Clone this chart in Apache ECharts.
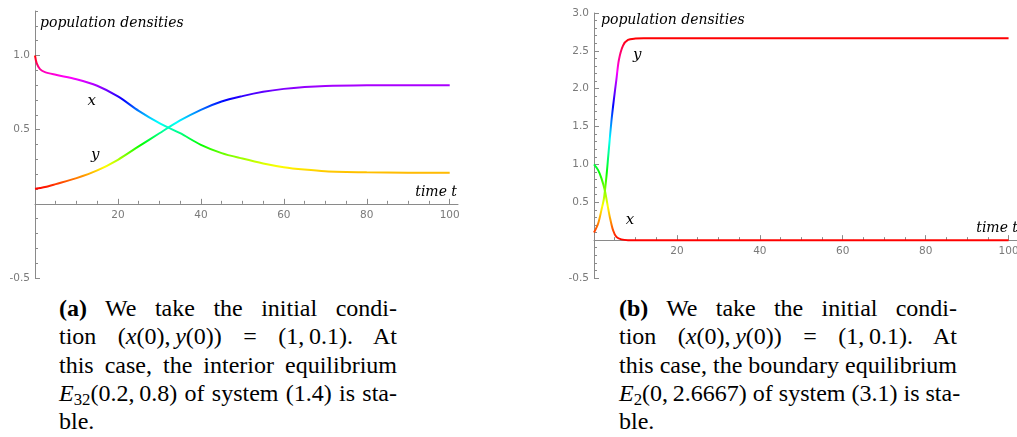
<!DOCTYPE html>
<html>
<head>
<meta charset="utf-8">
<script src="https://cdn.jsdelivr.net/npm/echarts@6/dist/echarts.min.js"></script>
<style>
  html, body { margin: 0; padding: 0; background: #fff; }
  body { width: 1017px; height: 437px; position: relative; overflow: hidden; }
  #chart { position: absolute; left: 0; top: 0; width: 1017px; height: 290px; }
  .caption {
    position: absolute; top: 294px; width: 338px;
    font-family: "Liberation Serif", "Times New Roman", serif;
    font-size: 24px; line-height: 28.33px; color: #000;
  }
  .caption div { text-align: justify; text-align-last: justify; white-space: nowrap; }
  .caption div.last { text-align-last: left; }
  .caption sub { font-size: 70%; line-height: 0; vertical-align: -0.25em; }
</style>
</head>
<body>
<div id="chart"></div>
<div class="caption" style="left:59px">
  <div><b>(a)</b> We take the initial condi-</div>
  <div>tion (<i>x</i>(0),&thinsp;<i>y</i>(0)) = (1,&thinsp;0.1). At</div>
  <div>this case, the interior equilibrium</div>
  <div><i>E</i><sub>32</sub>(0.2,&thinsp;0.8) of system (1.4) is sta-</div>
  <div class="last">ble.</div>
</div>
<div class="caption" style="left:619px">
  <div><b>(b)</b> We take the initial condi-</div>
  <div>tion (<i>x</i>(0),&thinsp;<i>y</i>(0)) = (1,&thinsp;0.1). At</div>
  <div>this case, the boundary equilibrium</div>
  <div><i>E</i><sub>2</sub>(0,&thinsp;2.6667) of system (3.1) is sta-</div>
  <div class="last">ble.</div>
</div>
<script>
  // panel (a): interior equilibrium
  const tA = [0, 0.4, 1.2, 2.4, 5, 10, 15, 20, 25, 30, 35, 40, 45, 50, 55, 60, 65, 70, 80, 90, 100];
  const xA = [1.0, 0.948, 0.908, 0.888, 0.870, 0.840, 0.796, 0.724, 0.627, 0.544, 0.476, 0.398, 0.342, 0.305, 0.272, 0.247, 0.231, 0.220, 0.213, 0.210, 0.209];
  const yA = [0.101, 0.103, 0.107, 0.113, 0.133, 0.173, 0.225, 0.297, 0.387, 0.476, 0.562, 0.634, 0.690, 0.726, 0.755, 0.775, 0.788, 0.795, 0.799, 0.800, 0.800];

  // panel (b): boundary equilibrium
  const tBx = [0, 1, 1.8, 2.6, 3.2, 3.8, 4.6, 5.4, 6.6, 8.2, 12, 20, 40, 60, 80, 100];
  const xB = [1.0, 0.925, 0.815, 0.66, 0.485, 0.31, 0.13, 0.044, 0.01, 0, 0, 0, 0, 0, 0, 0];
  const tBy = [0, 1, 1.8, 2.4, 3, 3.5, 4.2, 4.8, 5.4, 6, 7, 8.2, 10, 12, 20, 40, 60, 80, 100];
  const yB = [0.1, 0.22, 0.40, 0.55, 0.84, 1.15, 1.57, 1.86, 2.12, 2.38, 2.57, 2.645, 2.663, 2.667, 2.667, 2.667, 2.667, 2.667, 2.667];

  const xTickLabels = [20, 40, 60, 80, 100];
  const yTickLabelsA = [-0.5, 0.5, 1.0];
  const yTickLabelsB = [-0.5, 0.5, 1.0, 1.5, 2.0, 2.5, 3.0];
  const curveLabelsA = [["x", 13.7, 0.695], ["y", 14.5, 0.33]];
  const curveLabelsB = [["y", 10.4, 2.44], ["x", 8.7, 0.26]];
  const hues = ["#ff0000", "#ffff00", "#00ff00", "#00ffff", "#0000ff", "#ff00ff", "#ff0000"];

  const steps = (from, to, step) => {
    const out = [];
    for (let v = from; v <= to + step / 2; v += step) out.push(Math.round(v * 1000) / 1000);
    return out;
  };

  const axisGrey = "#8a8a8a";
  const labelFont = { color: "#7a7a7a", fontFamily: "DejaVu Sans", fontSize: 10.5 };
  const nameFont = { color: "#000", fontFamily: "DejaVu Serif", fontStyle: "italic", fontSize: 14 };

  const pairs = (ts, vs) => ts.map((t, i) => [t, vs[i]]);

  function panel(g, rect, xMax, yMin, yMax, yLabels, nameCfg) {
    // the time axis sits on y = 0, so lift it from the grid bottom
    const zeroOffset = -(0 - yMin) / (yMax - yMin) * rect.height;
    const grids = [
      Object.assign({ outerBoundsMode: "none", containLabel: false }, rect),
      Object.assign({ outerBoundsMode: "none", containLabel: false }, rect),
    ];
    const xAxes = [
      {
        gridIndex: g, type: "value", min: 0, max: xMax, position: "bottom", offset: zeroOffset,
        axisLine: { show: true, onZero: false, lineStyle: { color: axisGrey, width: 1 } },
        axisTick: { show: true, inside: true, length: 5, customValues: xTickLabels, lineStyle: { color: axisGrey } },
        axisLabel: Object.assign({ customValues: xTickLabels, margin: 6 }, labelFont),
        splitLine: { show: false },
        name: "time t", nameLocation: "end", nameGap: nameCfg.xGap, nameMoveOverlap: false,
        nameTextStyle: Object.assign({ align: "right", verticalAlign: "bottom", padding: [0, 0, nameCfg.xPad, 0] }, nameFont),
      },
      {
        gridIndex: g + 1, type: "value", min: 0, max: xMax, position: "bottom", offset: zeroOffset,
        axisLine: { show: false, onZero: false },
        axisTick: { show: true, inside: true, length: 3, customValues: steps(0, 100, 5), lineStyle: { color: axisGrey } },
        axisLabel: { show: false }, splitLine: { show: false },
      },
    ];
    const yAxes = [
      {
        gridIndex: g, type: "value", min: yMin, max: yMax, position: "left",
        axisLine: { show: true, onZero: false, lineStyle: { color: axisGrey, width: 1 } },
        axisTick: { show: true, inside: true, length: 5, customValues: yLabels, lineStyle: { color: axisGrey } },
        axisLabel: Object.assign({ customValues: yLabels, margin: 5, formatter: (v) => v.toFixed(1) }, labelFont),
        splitLine: { show: false },
        name: "population densities", nameLocation: "end", nameGap: nameCfg.yGap, nameMoveOverlap: false,
        nameTextStyle: Object.assign({ align: "left", verticalAlign: "top", padding: [0, 0, 0, nameCfg.yPad] }, nameFont),
      },
      {
        gridIndex: g + 1, type: "value", min: yMin, max: yMax, position: "left",
        axisLine: { show: false, onZero: false },
        axisTick: { show: true, inside: true, length: 3, customValues: steps(yMin, yMax, 0.1), lineStyle: { color: axisGrey } },
        axisLabel: { show: false }, splitLine: { show: false },
      },
    ];
    return { grids, xAxes, yAxes };
  }

  function curve(g, data, labels) {
    return {
      type: "line", xAxisIndex: g, yAxisIndex: g, data,
      symbol: "none", smooth: 0.3,
      lineStyle: { width: 2 },
      animation: false, silent: true,
      markPoint: labels.length ? {
        symbol: "circle", symbolSize: 0, silent: true,
        label: Object.assign({ show: true, position: "inside", formatter: (p) => p.name }, nameFont, { fontSize: 15 }),
        data: labels.map(([name, t, v]) => ({ name, coord: [t, v] })),
      } : undefined,
    };
  }

  const pa = panel(0, { left: 35, top: 11, width: 423, height: 267 }, 102, -0.5, 1.3, yTickLabelsA,
    { xGap: -1, xPad: 4, yGap: -5, yPad: 5 });
  const pb = panel(2, { left: 594, top: 13, width: 427, height: 265 }, 103, -0.5, 3.0, yTickLabelsB,
    { xGap: -3, xPad: 5, yGap: 0, yPad: 7 });

  const chart = echarts.init(document.getElementById("chart"), null, { renderer: "canvas" });
  chart.setOption({
    animation: false,
    backgroundColor: "#fff",
    grid: [...pa.grids, ...pb.grids],
    xAxis: [...pa.xAxes, ...pb.xAxes],
    yAxis: [...pa.yAxes, ...pb.yAxes],
    visualMap: [
      { type: "continuous", show: false, dimension: 1, seriesIndex: [0, 1], min: 0.1, max: 1.0, inRange: { color: hues } },
      { type: "continuous", show: false, dimension: 1, seriesIndex: [2, 3], min: 0, max: 2.667, inRange: { color: hues } },
    ],
    series: [
      curve(0, pairs(tA, xA), curveLabelsA),
      curve(0, pairs(tA, yA), []),
      curve(2, pairs(tBy, yB), curveLabelsB),
      curve(2, pairs(tBx, xB), []),
    ],
  });
</script>
</body>
</html>
